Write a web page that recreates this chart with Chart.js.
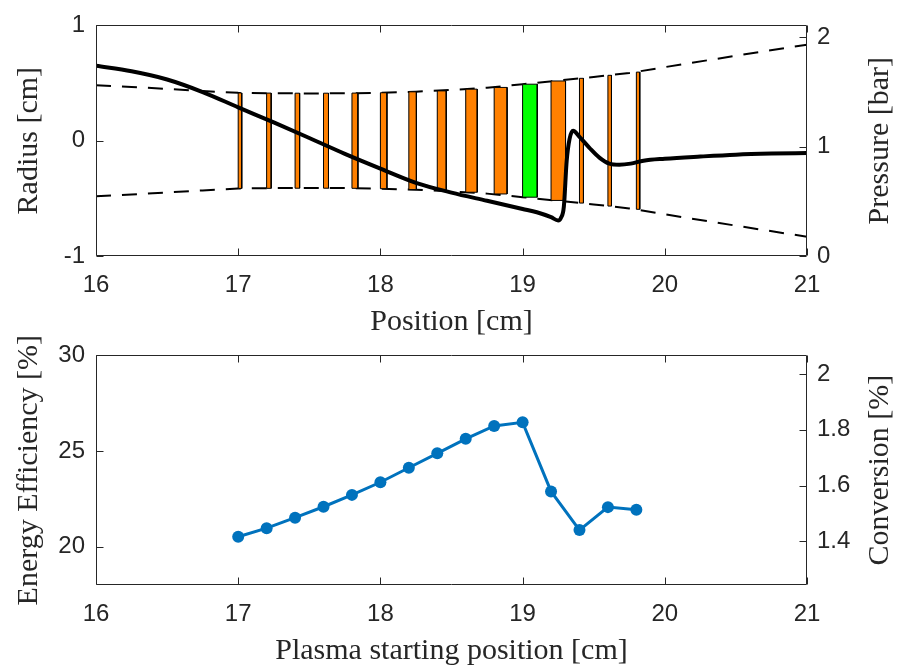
<!DOCTYPE html>
<html>
<head>
<meta charset="utf-8">
<script src="https://cdn.jsdelivr.net/npm/chart.js@4.4.1/dist/chart.umd.min.js"></script>
<style>
  html, body { margin: 0; padding: 0; background: #fff; }
  #wrap { position: relative; width: 898px; height: 665px; overflow: hidden; }
  canvas { position: absolute; left: 0; }
  #top { top: 0; }
  #bottom { top: 330px; }
</style>
</head>
<body>
<div id="wrap">
  <canvas id="top" width="898" height="340"></canvas>
  <canvas id="bottom" width="898" height="335"></canvas>
</div>
<script>
// ── Dados: perfil do bocal ─────────────────────────────────────
const profileX = [16, 16.25, 16.5, 16.75, 17, 17.25, 17.5, 17.75, 18, 18.25, 18.5, 18.75, 19, 19.25, 19.5, 19.75, 20, 20.5, 21];
const profileR = [0.482, 0.466, 0.449, 0.431, 0.415, 0.411, 0.41, 0.411, 0.416, 0.425, 0.44, 0.459, 0.49, 0.521, 0.553, 0.587, 0.638, 0.737, 0.833];

// ── Dados: barras (posição inicial do plasma) ──────────────────
const barX = [17, 17.2, 17.4, 17.6, 17.8, 18, 18.2, 18.4, 18.6, 18.8, 19, 19.2, 19.4, 19.6, 19.8];
const barR = [0.414, 0.413, 0.412, 0.412, 0.413, 0.416, 0.424, 0.432, 0.447, 0.462, 0.49, 0.518, 0.541, 0.567, 0.595];
const barW = [0.025, 0.032, 0.032, 0.035, 0.042, 0.046, 0.053, 0.063, 0.081, 0.091, 0.103, 0.102, 0.028, 0.025, 0.024];
const highlightIdx = 10;

// ── Dados: pressão ─────────────────────────────────────────────
const pressX = [16, 16.25, 16.5, 16.75, 17, 17.25, 17.5, 17.75, 18, 18.25, 18.5, 18.75, 19, 19.1, 19.2, 19.25, 19.27, 19.29, 19.31, 19.33, 19.355, 19.4, 19.47, 19.54, 19.61, 19.68, 19.76, 19.85, 20, 20.25, 20.5, 20.75, 21];
const pressP = [1.74, 1.69, 1.615, 1.5, 1.36, 1.222, 1.08, 0.935, 0.8, 0.67, 0.58, 0.505, 0.43, 0.4, 0.355, 0.325, 0.35, 0.45, 0.87, 1.07, 1.145, 1.09, 0.99, 0.9, 0.845, 0.835, 0.845, 0.872, 0.89, 0.91, 0.927, 0.937, 0.943];

// ── Dados: eficiência ──────────────────────────────────────────
const startPos = [17, 17.2, 17.4, 17.6, 17.8, 18, 18.2, 18.4, 18.6, 18.8, 19, 19.2, 19.4, 19.6, 19.8];
const efficiency = [20.52, 20.97, 21.52, 22.09, 22.71, 23.37, 24.13, 24.88, 25.64, 26.31, 26.5, 22.89, 20.87, 22.07, 21.93];

// ── Ticks ──────────────────────────────────────────────────────
const xTicks = [16, 17, 18, 19, 20, 21];
const radiusTicks = [-1, 0, 1];
const pressureTicks = [0, 1, 2];
const effTicks = [20, 25, 30];
const convTicks = [1.4, 1.6, 1.8, 2];

const INK = '#262626';
const TICK_FONT = { family: 'Liberation Sans, Arial, sans-serif', size: 24 };
const TITLE_FONT = { family: 'Liberation Serif, Times New Roman, serif', size: 30 };
const fmt = v => String(+(+v).toFixed(2));

// caixa + ticks para dentro + título do eixo direito
function frame(rightTitle) {
  return {
    id: 'frame',
    afterDatasetsDraw(chart) {
      const { ctx, chartArea: a, scales } = chart;
      const L = Math.round(a.left) + 0.5, R = Math.round(a.right) - 0.5;
      const T = Math.round(a.top) + 0.5, B = Math.round(a.bottom) - 0.5;
      const len = 7;
      ctx.save();
      ctx.strokeStyle = INK;
      ctx.lineWidth = 1;
      ctx.beginPath();
      ctx.rect(L, T, R - L, B - T);
      scales.x.ticks.forEach(t => {
        const px = Math.round(scales.x.getPixelForValue(t.value)) + 0.5;
        ctx.moveTo(px, B); ctx.lineTo(px, B - len);
        ctx.moveTo(px, T); ctx.lineTo(px, T + len);
      });
      scales.yL.ticks.forEach(t => {
        const py = Math.round(scales.yL.getPixelForValue(t.value)) + 0.5;
        ctx.moveTo(L, py); ctx.lineTo(L + len, py);
      });
      scales.yR.ticks.forEach(t => {
        const py = Math.round(scales.yR.getPixelForValue(t.value)) + 0.5;
        ctx.moveTo(R, py); ctx.lineTo(R - len, py);
      });
      ctx.stroke();
      ctx.translate(a.right + 73, (a.top + a.bottom) / 2);
      ctx.rotate(-Math.PI / 2);
      ctx.font = `${TITLE_FONT.size}px ${TITLE_FONT.family}`;
      ctx.fillStyle = INK;
      ctx.textAlign = 'center';
      ctx.textBaseline = 'middle';
      ctx.fillText(rightTitle, 0, 0);
      ctx.restore();
    }
  };
}

function xScale(title, height, pad) {
  return {
    type: 'linear', min: 16, max: 21,
    grid: { display: false, drawTicks: false }, border: { display: false },
    afterBuildTicks: s => { s.ticks = xTicks.map(v => ({ value: v })); },
    afterFit: s => { s.height = height; },
    ticks: { font: TICK_FONT, color: INK, padding: 15, callback: fmt, maxRotation: 0 },
    title: { display: true, text: title, font: TITLE_FONT, color: INK, padding: { top: 0, bottom: pad } }
  };
}

function yScale(pos, min, max, ticks, width, title) {
  const s = {
    type: 'linear', position: pos, min, max, display: true,
    grid: { display: false, drawTicks: false }, border: { display: false },
    afterBuildTicks: sc => { sc.ticks = ticks.map(v => ({ value: v })); },
    afterFit: sc => { sc.width = width; },
    ticks: { font: TICK_FONT, color: INK, padding: pos === 'left' ? 11 : 10, callback: fmt }
  };
  if (title) s.title = { display: true, text: title, font: TITLE_FONT, color: INK, padding: { top: 11, bottom: 0 } };
  return s;
}

const baseOpts = {
  responsive: false, animation: false, devicePixelRatio: 1,
  plugins: { legend: { display: false }, tooltip: { enabled: false } }
};

// ── Gráfico superior ───────────────────────────────────────────
const barSets = barX.map((x, i) => ({
  yAxisID: 'yL', order: 1,
  data: [{ x, y: -barR[i] }, { x, y: barR[i] }, { x: x + barW[i], y: barR[i] }, { x: x + barW[i], y: -barR[i] }, { x, y: -barR[i] }],
  fill: 'shape',
  backgroundColor: i === highlightIdx ? '#00FF00' : '#FF8000',
  borderColor: '#000', borderWidth: 1, pointRadius: 0, tension: 0
}));

const dashStyle = { yAxisID: 'yL', order: 2, borderColor: '#000', borderWidth: 2, borderDash: [15, 11], pointRadius: 0, fill: false, tension: 0 };

new Chart(document.getElementById('top'), {
  type: 'line',
  data: {
    datasets: [
      { yAxisID: 'yR', order: 0, data: pressX.map((x, i) => ({ x, y: pressP[i] })),
        borderColor: '#000', borderWidth: 4, pointRadius: 0, fill: false, cubicInterpolationMode: 'monotone' },
      ...barSets,
      { ...dashStyle, data: profileX.map((x, i) => ({ x, y: profileR[i] })) },
      { ...dashStyle, data: profileX.map((x, i) => ({ x, y: -profileR[i] })) }
    ]
  },
  options: {
    ...baseOpts,
    layout: { padding: { top: 22, left: 0, right: 0, bottom: 0 } },
    scales: {
      x: xScale('Position [cm]', 84, 0),
      yL: yScale('left', -1, 1, radiusTicks, 96, 'Radius [cm]'),
      yR: yScale('right', 0, 2.11, pressureTicks, 91)
    }
  },
  plugins: [frame('Pressure [bar]')]
});

// ── Gráfico inferior ───────────────────────────────────────────
new Chart(document.getElementById('bottom'), {
  type: 'line',
  data: {
    datasets: [{
      yAxisID: 'yL', data: startPos.map((x, i) => ({ x, y: efficiency[i] })),
      borderColor: '#0072BD', backgroundColor: '#0072BD', borderWidth: 3,
      pointRadius: 6, pointBorderWidth: 0, pointBackgroundColor: '#0072BD', fill: false, tension: 0
    }]
  },
  options: {
    ...baseOpts,
    layout: { padding: { top: 19, left: 0, right: 0, bottom: 0 } },
    scales: {
      x: xScale('Plasma starting position [cm]', 80, -4),
      yL: yScale('left', 18, 30, effTicks, 96, 'Energy Efficiency [%]'),
      yR: yScale('right', 1.243, 2.067, convTicks, 91)
    }
  },
  plugins: [frame('Conversion [%]')]
});
</script>
</body>
</html>
